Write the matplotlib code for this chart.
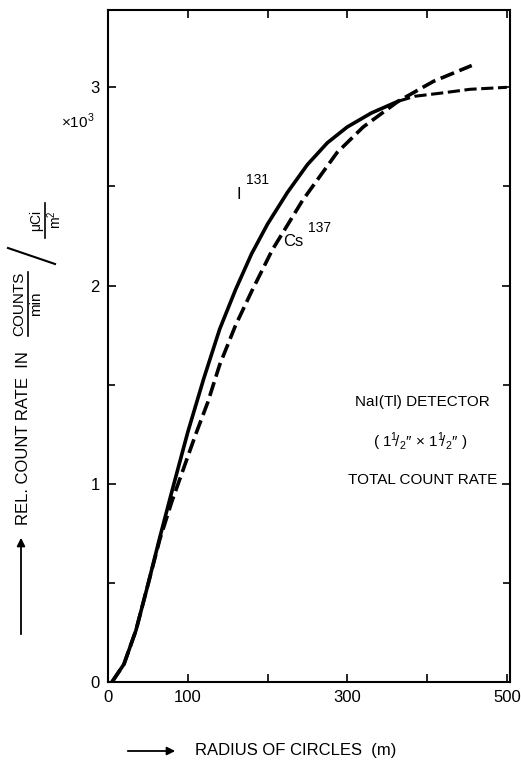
import matplotlib
matplotlib.use('Agg')
import matplotlib.pyplot as plt
from matplotlib.lines import Line2D
from matplotlib.patches import FancyArrowPatch
from matplotlib.ticker import MultipleLocator

# I 131 - solid part, then dashed tail after the crossing
i131_x = [5, 20, 35, 50, 65, 80, 100, 120, 140, 160, 180, 200, 225, 250, 275, 300, 330, 364]
i131_y = [0, 0.09, 0.26, 0.49, 0.73, 0.96, 1.26, 1.53, 1.78, 1.98, 2.16, 2.31, 2.47, 2.61, 2.72, 2.80, 2.87, 2.93]
i131_tail_x = [364, 385, 416, 454, 500]
i131_tail_y = [2.93, 2.955, 2.97, 2.99, 3.0]

# Cs 137 - dashed
cs137_x = [5, 20, 35, 50, 65, 80, 95, 110, 125, 140, 160, 180, 206, 244, 287, 320, 364, 408, 456]
cs137_y = [0, 0.09, 0.26, 0.49, 0.72, 0.91, 1.08, 1.25, 1.41, 1.60, 1.80, 1.97, 2.18, 2.43, 2.67, 2.80, 2.93, 3.03, 3.11]

x_ticks = [0, 100, 200, 300, 400, 500]
x_labels = ['0', '100', '', '300', '', '500']
y_ticks = [0, 1, 2, 3]

W, H = 521, 764
plt.rcParams['font.family'] = ['Liberation Sans', 'DejaVu Sans']
plt.rcParams['mathtext.fontset'] = 'custom'
plt.rcParams['mathtext.rm'] = 'Liberation Sans'

fig = plt.figure(figsize=(W / 100, H / 100), dpi=100)
ax = fig.add_axes([108 / W, 1 - 682 / H, (510 - 108) / W, (682 - 10) / H])

ax.plot(i131_x, i131_y, color='black', lw=2.6, solid_capstyle='round')
ax.plot(i131_tail_x, i131_tail_y, color='black', lw=2.2, linestyle=(0, (4, 1.5)))
ax.plot(cs137_x, cs137_y, color='black', lw=2.6, linestyle=(0, (4, 1.6)))

ax.set_xlim(0, 504)
ax.set_ylim(0, 3.39)
ax.set_xticks(x_ticks)
ax.set_xticklabels(x_labels)
ax.set_yticks(y_ticks)
ax.yaxis.set_minor_locator(MultipleLocator(0.5))
ax.tick_params(which='both', direction='in', top=True, right=True, labelsize=12,
               width=1.2, pad=6)
ax.tick_params(which='major', length=6)
ax.tick_params(which='minor', length=5)
for s in ax.spines.values():
    s.set_linewidth(1.5)

# curve labels
ax.text(164, 2.46, 'I', fontsize=12, ha='center', va='center')
ax.text(188, 2.53, '131', fontsize=10, ha='center', va='center')
ax.text(232, 2.22, 'Cs', fontsize=12, ha='center', va='center')
ax.text(265, 2.29, '137', fontsize=10, ha='center', va='center')

# detector note
ax.text(394, 1.41, 'NaI(Tl) DETECTOR', fontsize=11, ha='center', va='center')
ax.text(391, 1.21, '( 1$^{1}\\!/_{2}$\u2033 \u00d7 1$^{1}\\!/_{2}$\u2033 )', fontsize=11,
        ha='center', va='center')
ax.text(394, 1.02, 'TOTAL COUNT RATE', fontsize=11, ha='center', va='center')


def ftxt(px, py, s, **kw):
    fig.text(px / W, 1 - py / H, s, **kw)


def fline(xs, ys, **kw):
    fig.add_artist(Line2D([x / W for x in xs], [1 - y / H for y in ys],
                          transform=fig.transFigure, color='black', **kw))


ftxt(78, 121, '\u00d710$^3$', fontsize=11, ha='center', va='center')

# y axis label, drawn rotated with fraction bars
ftxt(24, 438, 'REL. COUNT RATE  IN', fontsize=12, rotation=90, ha='center', va='center')
ftxt(19, 304, 'COUNTS', fontsize=11, rotation=90, ha='center', va='center')
fline([28, 28], [272, 336], lw=1.2)
ftxt(36, 304, 'min', fontsize=11, rotation=90, ha='center', va='center')
fline([8, 55], [248, 264], lw=1.5)
ftxt(36, 220, '\u03bcCi', fontsize=10, rotation=90, ha='center', va='center')
fline([45, 45], [203, 238], lw=1.2)
ftxt(55, 220, 'm$^2$', fontsize=10, rotation=90, ha='center', va='center')
fig.add_artist(FancyArrowPatch(
    (21 / W, 1 - 637 / H), (21 / W, 1 - 535 / H), transform=fig.transFigure,
    arrowstyle='-|>', mutation_scale=12, color='black', lw=1.3))

# x axis label with arrow
fig.add_artist(FancyArrowPatch(
    (125 / W, 1 - 751 / H), (178 / W, 1 - 751 / H), transform=fig.transFigure,
    arrowstyle='-|>', mutation_scale=12, color='black', lw=1.3))
ftxt(195, 751, 'RADIUS OF CIRCLES  (m)', fontsize=12, ha='left', va='center')

fig.savefig('out.png', dpi=100)
